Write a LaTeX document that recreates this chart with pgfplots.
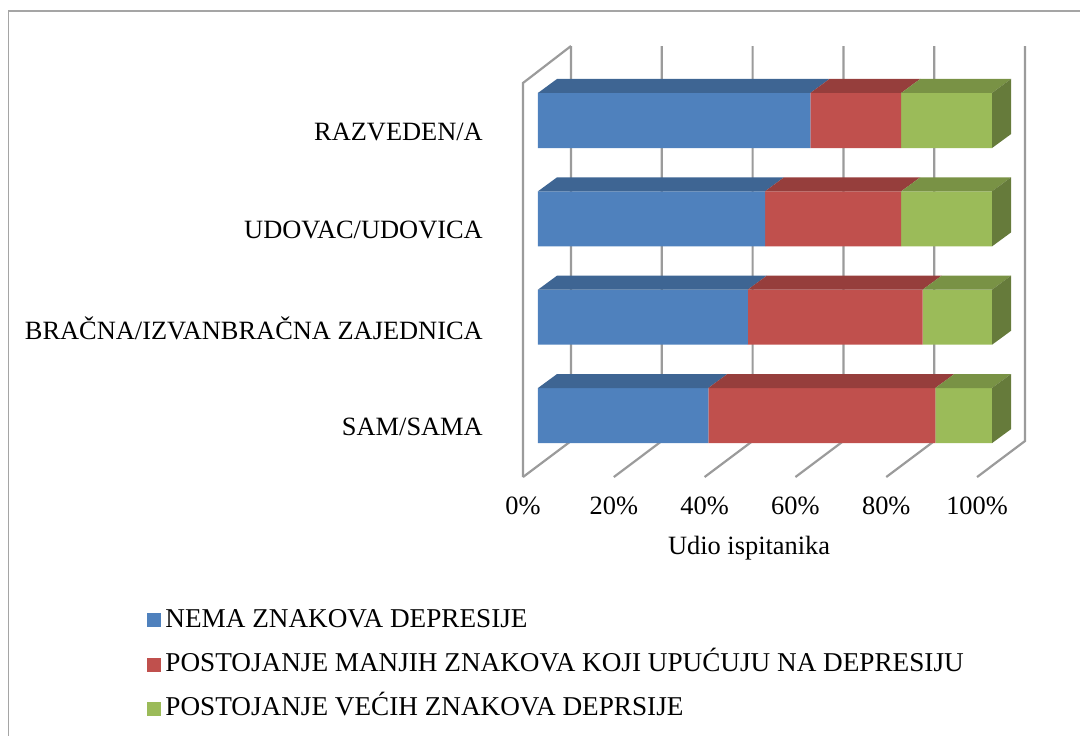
\documentclass[border=0pt]{standalone}
\usepackage{pgfplots}
\pgfplotsset{compat=1.18}
\usepackage{fontspec}
\setmainfont{Liberation Serif}
\definecolor{cblue}{HTML}{4F81BD}
\definecolor{cred}{HTML}{C0504D}
\definecolor{cgreen}{HTML}{9BBB59}
\colorlet{tblue}{cblue!78!black}
\colorlet{tred}{cred!78!black}
\colorlet{tgreen}{cgreen!78!black}
\colorlet{sgreen}{cgreen!66!black}
\definecolor{wallgray}{RGB}{155,155,155}
\definecolor{framegray}{RGB}{165,165,165}
\pgfplotsset{
  base/.style={
    at={(261.5pt,-238.5pt)}, anchor=south west,
    scale only axis, width=252pt, height=215.5pt,
    xmin=-3.30, xmax=107.7, ymin=-0.625, ymax=3.757,
    clip=false,
  },
  wall/.style={draw=wallgray, line width=1.1pt, no markers},
  sq/.style={legend image code/.code={\fill[##1] (0pt,-3.5pt) rectangle (7pt,3.5pt);}},
}
\begin{document}
\fontsize{13.2pt}{15.8pt}\selectfont
\begin{tikzpicture}
% frame
\draw[framegray, line width=0.9pt] (4.25pt,-372pt) -- (4.25pt,-5.5pt) -- (545pt,-5.5pt);
% walls and labels
\begin{axis}[base,
  axis line style={draw=none}, major tick length=0pt, tick style={draw=none},
  /pgf/number format/assume math mode=true,
  xtick={-3.30,16.70,36.70,56.70,76.70,96.70},
  xticklabels={0\%,20\%,40\%,60\%,80\%,100\%},
  xticklabel style={yshift=-5.6pt},
  ytick={-0.117,0.883,1.883,2.883},
  yticklabels={SAM/SAMA,BRAČNA/IZVANBRAČNA ZAJEDNICA,UDOVAC/UDOVICA,RAZVEDEN/A},
  yticklabel style={xshift=-15.5pt},
]
\addplot[wall] coordinates {(-3.30,-0.625) (-3.30,3.381) (7.27,3.757)};
\addplot[wall] coordinates {(-3.30,-0.625) (7.27,-0.259) (7.27,3.757)};
\addplot[wall] coordinates {(16.70,-0.625) (27.27,-0.259) (27.27,3.757)};
\addplot[wall] coordinates {(36.70,-0.625) (47.27,-0.259) (47.27,3.757)};
\addplot[wall] coordinates {(56.70,-0.625) (67.27,-0.259) (67.27,3.757)};
\addplot[wall] coordinates {(76.70,-0.625) (87.27,-0.259) (87.27,3.757)};
\addplot[wall] coordinates {(96.70,-0.625) (107.27,-0.259) (107.27,3.757)};
\node at (axis cs:46.5,-1.347) {Udio ispitanika};
\end{axis}
% bars (front faces)
\begin{axis}[base, hide axis,
  xbar stacked, bar width=0.56,
  legend style={at={(-0.746,-0.2922)}, anchor=north west, draw=none, fill=none,
    inner sep=0pt, row sep=5.1pt, cells={anchor=west},
    font=\fontsize{13.6pt}{16.2pt}\selectfont,
    nodes={text height=10pt, text depth=3pt}},
]
\addplot[fill=cblue, draw=none, sq] coordinates {(37.5,0) (46.2,1) (50,2) (60,3)};
\addlegendentry{NEMA ZNAKOVA DEPRESIJE}
\addplot[fill=cred, draw=none, sq] coordinates {(50,0) (38.5,1) (30,2) (20,3)};
\addlegendentry{POSTOJANJE MANJIH ZNAKOVA KOJI UPUĆUJU NA DEPRESIJU}
\addplot[fill=cgreen, draw=none, sq] coordinates {(12.5,0) (15.3,1) (20,2) (20,3)};
\addlegendentry{POSTOJANJE VEĆIH ZNAKOVA DEPRSIJE}
\end{axis}
% 3D top and side faces
\begin{axis}[base, hide axis]
% SAM/SAMA (0): 37.5 / 87.5 / 100
\addplot[fill=tblue, draw=none] coordinates {(0,0.28) (4.19,0.422) (41.69,0.422) (37.5,0.28)} -- cycle;
\addplot[fill=tred, draw=none] coordinates {(37.5,0.28) (41.69,0.422) (91.69,0.422) (87.5,0.28)} -- cycle;
\addplot[fill=tgreen, draw=none] coordinates {(87.5,0.28) (91.69,0.422) (104.19,0.422) (100,0.28)} -- cycle;
\addplot[fill=sgreen, draw=none] coordinates {(100,-0.28) (104.19,-0.138) (104.19,0.422) (100,0.28)} -- cycle;
% BRACNA (1): 46.2 / 84.7 / 100
\addplot[fill=tblue, draw=none] coordinates {(0,1.28) (4.19,1.422) (50.39,1.422) (46.2,1.28)} -- cycle;
\addplot[fill=tred, draw=none] coordinates {(46.2,1.28) (50.39,1.422) (88.89,1.422) (84.7,1.28)} -- cycle;
\addplot[fill=tgreen, draw=none] coordinates {(84.7,1.28) (88.89,1.422) (104.19,1.422) (100,1.28)} -- cycle;
\addplot[fill=sgreen, draw=none] coordinates {(100,0.72) (104.19,0.862) (104.19,1.422) (100,1.28)} -- cycle;
% UDOVAC (2): 50 / 80 / 100
\addplot[fill=tblue, draw=none] coordinates {(0,2.28) (4.19,2.422) (54.19,2.422) (50,2.28)} -- cycle;
\addplot[fill=tred, draw=none] coordinates {(50,2.28) (54.19,2.422) (84.19,2.422) (80,2.28)} -- cycle;
\addplot[fill=tgreen, draw=none] coordinates {(80,2.28) (84.19,2.422) (104.19,2.422) (100,2.28)} -- cycle;
\addplot[fill=sgreen, draw=none] coordinates {(100,1.72) (104.19,1.862) (104.19,2.422) (100,2.28)} -- cycle;
% RAZVEDEN (3): 60 / 80 / 100
\addplot[fill=tblue, draw=none] coordinates {(0,3.28) (4.19,3.422) (64.19,3.422) (60,3.28)} -- cycle;
\addplot[fill=tred, draw=none] coordinates {(60,3.28) (64.19,3.422) (84.19,3.422) (80,3.28)} -- cycle;
\addplot[fill=tgreen, draw=none] coordinates {(80,3.28) (84.19,3.422) (104.19,3.422) (100,3.28)} -- cycle;
\addplot[fill=sgreen, draw=none] coordinates {(100,2.72) (104.19,2.862) (104.19,3.422) (100,3.28)} -- cycle;
\end{axis}
\pgfresetboundingbox
\useasboundingbox (0pt,0pt) rectangle (540pt,-367.5pt);
\end{tikzpicture}
\end{document}
